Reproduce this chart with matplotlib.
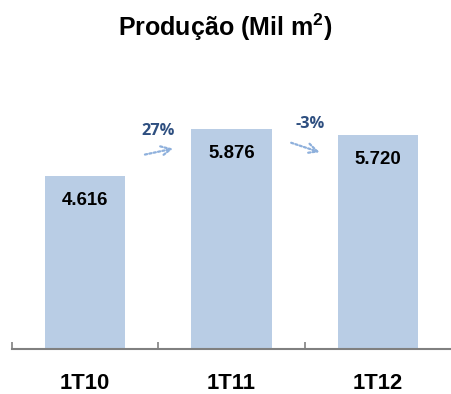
import matplotlib
matplotlib.use("Agg")
import matplotlib.pyplot as plt

plt.rcParams['font.family'] = ['Liberation Sans', 'DejaVu Sans']
plt.rcParams['mathtext.fontset'] = 'custom'
plt.rcParams['mathtext.bf'] = 'Liberation Sans:bold'
plt.rcParams['mathtext.rm'] = 'Liberation Sans:bold'

# dados
categorias = ["1T10", "1T11", "1T12"]
producao = [4616, 5876, 5720]
rotulos = ["4.616", "5.876", "5.720"]
variacao = ["27%", "-3%"]

cor_barra = "#b9cde5"
cor_seta = "#8eb0dc"
cor_var = "#2e4f80"

fig = plt.figure(figsize=(4.51, 3.94), dpi=100)
ax = fig.add_axes([0.0266, 0.1142, 0.9734, 0.7458])

x = list(range(len(categorias)))
ax.bar(x, producao, width=0.55, color=cor_barra, zorder=2)

# rotulos de valor dentro das barras
for xi, v, r in zip(x, producao, rotulos):
    ax.text(xi, v - 650, r, ha="center", va="center", fontsize=13.4,
            fontweight="bold", color="black", zorder=3)

# setas de variacao entre barras
for i, txt in enumerate(variacao):
    y0, y1 = producao[i], producao[i + 1]
    if y1 > y0:
        ya, yb = y0 + 570, y0 + 760
        yt = y0 + 1210
    else:
        ya, yb = y1 - 180, y1 - 480
        yt = y1 + 290
    ax.annotate("", xy=(i + 0.62, yb), xytext=(i + 0.39, ya),
                arrowprops=dict(arrowstyle="->,head_length=0.7,head_width=0.35",
                                color=cor_seta, lw=1.6, linestyle=(0, (1, 1))),
                zorder=3)
    ax.text(i + 0.5 + (0.0 if y1 > y0 else 0.04), yt, txt, ha="center", va="center",
            fontsize=11.8, fontweight="bold", color=cor_var,
            family=["Open Sans", "DejaVu Sans"])

ax.set_xlim(-0.5, 2.5)
ax.set_ylim(0, 7860)

for s in ["top", "right", "left"]:
    ax.spines[s].set_visible(False)
ax.spines["bottom"].set_color("#808080")
ax.spines["bottom"].set_linewidth(1.5)
ax.set_yticks([])

ax.set_xticks(x)
ax.set_xticklabels(categorias, fontsize=15.8, fontweight="bold")
ax.tick_params(axis="x", which="major", length=0, pad=17)
ax.set_xticks([-0.5, 0.5, 1.5], minor=True)
ax.tick_params(axis="x", which="minor", direction="in", length=5,
               width=1.2, color="#808080")

fig.text(0.5, 0.93, r"Produção (Mil m$^{\mathbf{2}}$)", ha="center", va="center",
         fontsize=18, fontweight="bold")

fig.savefig("out.png", dpi=100)
